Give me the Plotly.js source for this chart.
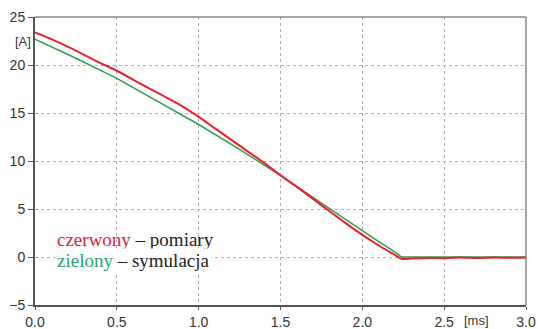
<!DOCTYPE html>
<html><head><meta charset="utf-8">
<script src="https://cdn.plot.ly/plotly-3.0.1.min.js"></script>
<style>html,body{margin:0;padding:0;background:#fff}#c{width:538px;height:329px}</style>
</head><body><div id="c"></div>
<script>
const redT = [0, 0.1, 0.25, 0.4, 0.5, 0.65, 0.75, 0.9, 1.0, 1.1, 1.25, 1.4, 1.5, 1.6, 1.75, 1.9, 2.0, 2.1, 2.2, 2.24, 2.3, 2.4, 2.5, 2.6, 2.7, 2.8, 2.9, 3.0];
const redI = [23.4, 22.7, 21.5, 20.2, 19.4, 18.0, 17.1, 15.7, 14.6, 13.4, 11.6, 9.8, 8.5, 7.3, 5.4, 3.5, 2.3, 1.2, 0.2, -0.2, -0.15, -0.1, -0.12, -0.05, -0.1, -0.05, -0.08, -0.05];
const greenT = [0, 0.25, 0.5, 0.75, 1.0, 1.25, 1.5, 1.75, 2.0, 2.1, 2.2, 2.24, 2.5, 3.0];
const greenI = [22.7, 20.7, 18.6, 16.2, 13.8, 11.2, 8.5, 5.6, 2.7, 1.6, 0.5, 0.0, 0.0, 0.0];
const xTicks = [0, 0.5, 1.0, 1.5, 2.0, 2.5, 3.0];
const xTickText = ['0.0', '0.5', '1.0', '1.5', '2.0', '2.5', '3.0'];
const yTicks = [-5, 0, 5, 10, 15, 20, 25];

const data = [
  {x: greenT, y: greenI, mode: 'lines', line: {color: '#3b9a4c', width: 1.5}, hoverinfo: 'skip'},
  {x: redT, y: redI, mode: 'lines', line: {color: '#e8232b', width: 2, shape: 'spline', smoothing: 0.5}, hoverinfo: 'skip'}
];
const grid = {showgrid: true, gridcolor: '#b0b0b0', griddash: 'dot', gridwidth: 1};
const serif = 'Liberation Serif';
const layout = {
  width: 538, height: 329,
  margin: {l: 35, r: 12, t: 17, b: 24},
  paper_bgcolor: '#fff', plot_bgcolor: '#fff',
  showlegend: false,
  font: {family: 'Liberation Sans', size: 14, color: '#333'},
  xaxis: Object.assign({
    range: [0, 3], tickvals: xTicks, ticktext: xTickText,
    zeroline: false, showline: true, linecolor: '#555', linewidth: 2,
    ticks: 'outside', ticklen: 3, tickcolor: '#555', tickfont: {size: 14, color: '#333'}
  }, grid),
  yaxis: Object.assign({
    range: [-5, 25], tickvals: yTicks,
    zeroline: false, showline: true, linecolor: '#555', linewidth: 2,
    ticks: 'outside', ticklen: 5, tickcolor: '#555', tickfont: {size: 14, color: '#333'}
  }, grid),
  shapes: [
    {type: 'line', xref: 'paper', yref: 'paper', x0: 0, x1: 1, y0: 1, y1: 1, line: {color: '#888', width: 1.5}},
    {type: 'line', xref: 'paper', yref: 'paper', x0: 1, x1: 1, y0: 0, y1: 1, line: {color: '#888', width: 1.5}}
  ],
  annotations: [
    {xref: 'paper', yref: 'y', x: 0, y: 22.4, xanchor: 'right', xshift: -2, text: '[A]', showarrow: false, font: {family: 'Liberation Sans', size: 13, color: '#333'}},
    {xref: 'x', yref: 'paper', x: 2.7, y: 0, yanchor: 'top', yshift: -6, text: '[ms]', showarrow: false, font: {family: 'Liberation Sans', size: 13, color: '#333'}},
    {xref: 'x', yref: 'y', x: 0.12, y: 1.8, xanchor: 'left', yanchor: 'middle', showarrow: false,
     text: '<span style="color:#d9262f">czerwony</span> – pomiary', font: {family: serif, size: 19, color: '#222'}},
    {xref: 'x', yref: 'y', x: 0.12, y: -0.35, xanchor: 'left', yanchor: 'middle', showarrow: false,
     text: '<span style="color:#2ea46c">zielony</span> – symulacja', font: {family: serif, size: 19, color: '#222'}, bgcolor: '#fff'}
  ]
};
Plotly.newPlot('c', data, layout, {staticPlot: true, displayModeBar: false});
</script></body></html>
